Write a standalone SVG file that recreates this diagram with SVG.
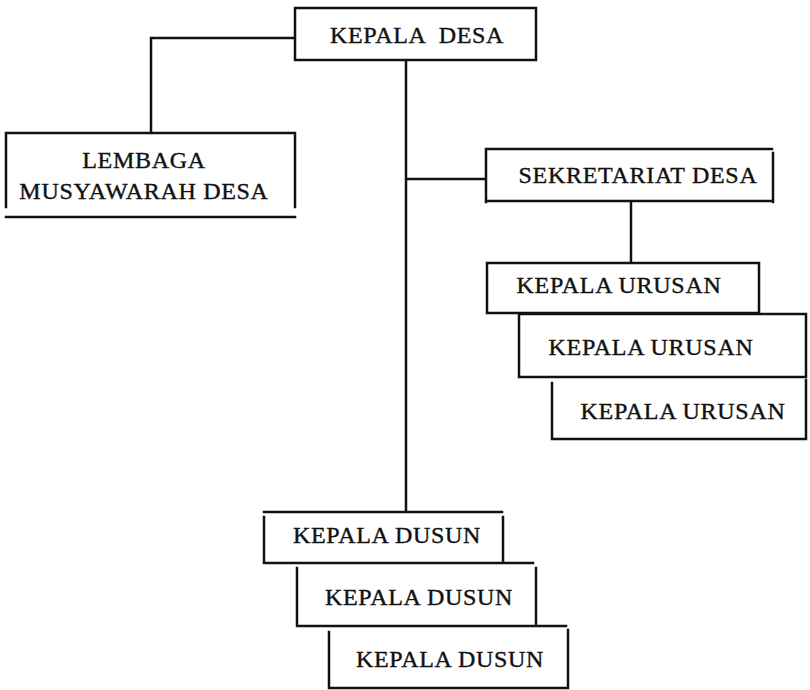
<svg xmlns="http://www.w3.org/2000/svg" width="810" height="690" viewBox="0 0 810 690">
<style>
.b{fill:none;stroke:#111;stroke-width:2.5;stroke-linecap:square}
.c{fill:none;stroke:#111;stroke-width:2.5}
.t{font-family:'Liberation Serif','Times New Roman','DejaVu Serif',serif;font-size:24px;letter-spacing:0.7px;fill:#111;stroke:#111;stroke-width:0.4;text-anchor:middle}
</style>
<rect width="810" height="690" fill="#fff"/>
<g id="connectors">
<path class="c" d="M295,38 H151 V133"/>
<path class="c" d="M406,60 V512"/>
<path class="c" d="M406,179 H486"/>
<path class="c" d="M631,201 V263"/>
</g>
<g id="kepala-desa">
<rect class="b" x="295" y="8" width="241" height="52"/>
<text class="t" x="417" y="43" xml:space="preserve">KEPALA  DESA</text>
</g>
<g id="lembaga">
<path class="b" d="M6,133 H295 M6,133 V207 M295,133 V207 M6,217 H295"/>
<text class="t" x="144" y="168">LEMBAGA</text>
<text class="t" x="144" y="199">MUSYAWARAH DESA</text>
</g>
<g id="sekretariat">
<path class="b" d="M486,149 H772 M486,149 V202 M773,153 V202 M486,201 H773"/>
<text class="t" x="638" y="183">SEKRETARIAT DESA</text>
</g>
<g id="kepala-urusan-1">
<path class="b" d="M487,263 H759 M487,263 V313 M759,263 V313 M487,313 H759"/>
<text class="t" x="619" y="293">KEPALA URUSAN</text>
</g>
<g id="kepala-urusan-2">
<path class="b" d="M519,314 H806 M519,314 V377 M806,314 V377 M519,377 H806"/>
<text class="t" x="651" y="355">KEPALA URUSAN</text>
</g>
<g id="kepala-urusan-3">
<path class="b" d="M552,383 V439 M806,380 V439 M552,439 H806"/>
<text class="t" x="683" y="419">KEPALA URUSAN</text>
</g>
<g id="kepala-dusun-1">
<path class="b" d="M264,512 H502 M264,517 V563 M503,517 V563 M264,563 H533"/>
<text class="t" x="387" y="543">KEPALA DUSUN</text>
</g>
<g id="kepala-dusun-2">
<path class="b" d="M297,568 V626 M536,568 V625 M297,626 H566"/>
<text class="t" x="419" y="605">KEPALA DUSUN</text>
</g>
<g id="kepala-dusun-3">
<path class="b" d="M329,632 V688 M568,630 V688 M329,688 H568"/>
<text class="t" x="450" y="667">KEPALA DUSUN</text>
</g>
</svg>
